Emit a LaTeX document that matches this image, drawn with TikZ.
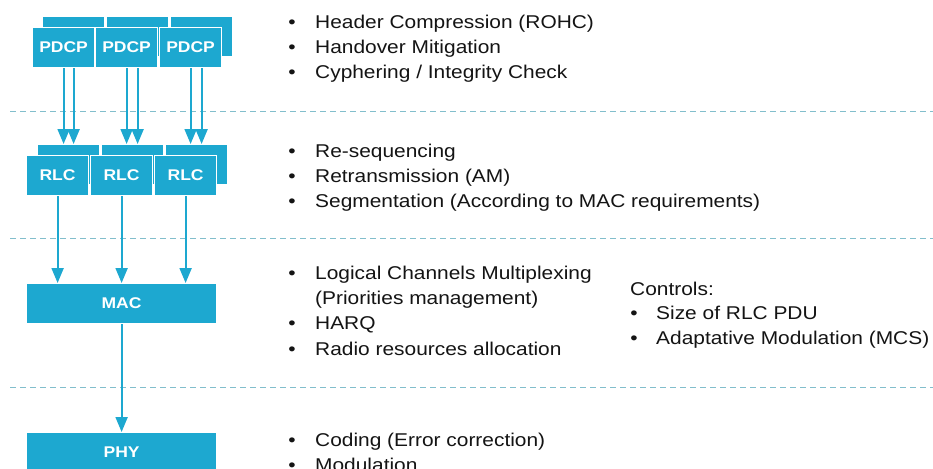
\documentclass[tikz,border=0pt]{standalone}
\usepackage{fontspec}
\setmainfont{Liberation Sans}[FakeStretch=1.13]
\usetikzlibrary{arrows.meta}
\definecolor{lte}{RGB}{29,168,208}
\definecolor{sepc}{RGB}{130,190,204}
\tikzset{
  box/.style={fill=lte, draw=white, line width=1.2pt, text=white,
    font=\fontsize{15.5}{18}\selectfont\bfseries, inner sep=0pt, anchor=north west,
    minimum width=62pt, minimum height=40pt},
  widebox/.style={box, minimum width=190pt},
  arr/.style={draw=lte, line width=2pt, -{Triangle[length=15pt,width=12pt]}},
  sepline/.style={draw=sepc, line width=1pt, dash pattern=on 6pt off 4pt},
  txt/.style={anchor=base west, inner sep=0pt, font=\fontsize{18.5}{24}\selectfont, text=black!92},
  bul/.style={anchor=base, inner sep=0pt, font=\fontsize{18.5}{24}\selectfont, text=black!92}
}
\begin{document}
\begin{tikzpicture}[x=1pt,y=-1pt]
\clip (0,0) rectangle (933,468);
\fill[white] (0,0) rectangle (933,468);

% separators
\draw[sepline] (10,112) -- (933,112);
\draw[sepline] (10,238) -- (933,238);
\draw[sepline] (10,387) -- (933,387);

% PDCP
\node[box] (pdcpb1) at (42,16) {};
\node[box] (pdcpb2) at (106,16) {};
\node[box] (pdcpb3) at (170,16) {};
\node[box] (pdcp1) at (32,27) {PDCP};
\node[box] (pdcp2) at (95,27) {PDCP};
\node[box] (pdcp3) at (159,27) {PDCP};

% RLC
\node[box] (rlcb1) at (37,144) {};
\node[box] (rlcb2) at (101,144) {};
\node[box] (rlcb3) at (165,144) {};
\node[box] (rlc1) at (26,155) {RLC};
\node[box] (rlc2) at (90,155) {RLC};
\node[box] (rlc3) at (154,155) {RLC};

% MAC, PHY
\node[widebox] (mac) at (26,283) {MAC};
\node[widebox] (phy) at (26,432) {PHY};

% arrows PDCP -> RLC
\foreach \i in {1,2,3}{
  \draw[arr] (pdcp\i.south) -- (pdcp\i.south |- rlcb\i.north);
  \draw[arr] (pdcpb\i.south |- pdcp\i.south) -- (pdcpb\i.south |- rlcb\i.north);
  \draw[arr] (rlc\i.south) -- (rlc\i.south |- mac.north);
}
\draw[arr] (mac.south) -- (phy.north);

% PDCP texts
\node[bul] (b1) at (292,29) {•};
\node[txt] (t1) at (315,29) {Header Compression (ROHC)};
\node[bul] (b2) at (292,54) {•};
\node[txt] (t2) at (315,54) {Handover Mitigation};
\node[bul] (b3) at (292,79) {•};
\node[txt] (t3) at (315,79) {Cyphering / Integrity Check};

% RLC texts
\node[bul] (b4) at (292,157) {•};
\node[txt] (t4) at (315,157) {Re-sequencing};
\node[bul] (b5) at (292,182) {•};
\node[txt] (t5) at (315,182) {Retransmission (AM)};
\node[bul] (b6) at (292,207) {•};
\node[txt] (t6) at (315,207) {Segmentation (According to MAC requirements)};

% MAC texts
\node[bul] (b7) at (292,279) {•};
\node[txt] (t7) at (315,279) {Logical Channels Multiplexing};
\node[txt] (t8) at (315,304) {(Priorities management)};
\node[bul] (b9) at (292,329) {•};
\node[txt] (t9) at (315,329) {HARQ};
\node[bul] (b10) at (292,355) {•};
\node[txt] (t10) at (315,355) {Radio resources allocation};

\node[txt] (c0) at (630,295) {Controls:};
\node[bul] (cb1) at (634,319) {•};
\node[txt] (c1) at (656,319) {Size of RLC PDU};
\node[bul] (cb2) at (634,344) {•};
\node[txt] (c2) at (656,344) {Adaptative Modulation (MCS)};

% PHY texts
\node[bul] (b11) at (292,446) {•};
\node[txt] (t11) at (315,446) {Coding (Error correction)};
\node[bul] (b12) at (292,471) {•};
\node[txt] (t12) at (315,471) {Modulation};
\end{tikzpicture}
\end{document}
